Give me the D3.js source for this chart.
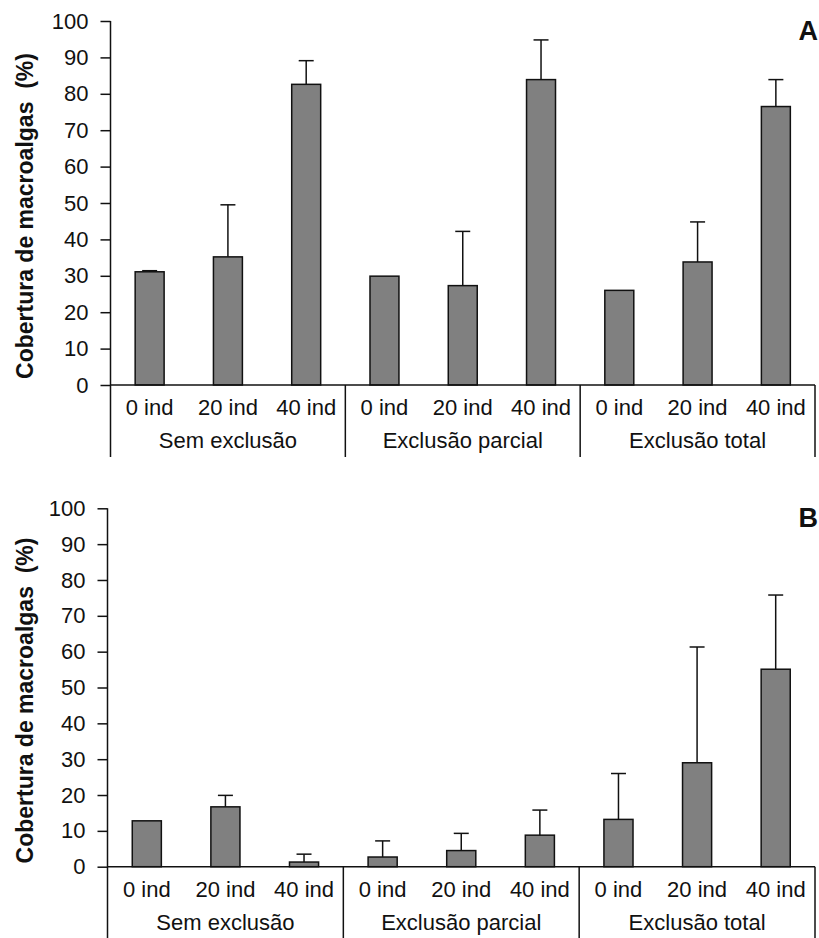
<!DOCTYPE html>
<html>
<head>
<meta charset="utf-8">
<script src="https://cdn.jsdelivr.net/npm/d3@7"></script>
<style>
	body { margin: 0; background: white; }
	text { font-family: "Liberation Sans", Arial, sans-serif; fill: #111; }
</style>
</head>
<body>
<svg id="chart" width="819" height="938"></svg>
<script>
// categories and groups (shared by both panels)
var categories = ["0 ind", "20 ind", "40 ind", "0 ind", "20 ind", "40 ind", "0 ind", "20 ind", "40 ind"];
var groups = ["Sem exclusão", "Exclusão parcial", "Exclusão total"];
var yTicks = [0, 10, 20, 30, 40, 50, 60, 70, 80, 90, 100];

// panel A
var valuesA = [31.1, 35.2, 82.6, 29.9, 27.3, 83.9, 26.0, 33.8, 76.5];
var errorsA = [0.3, 14.3, 6.5, 0, 14.9, 10.9, 0, 11.0, 7.4];

// panel B
var valuesB = [12.8, 16.7, 1.3, 2.7, 4.5, 8.8, 13.2, 29.0, 55.1];
var errorsB = [0, 3.2, 2.2, 4.5, 4.8, 7.0, 12.8, 32.3, 20.7];

var svg = d3.select("#chart");

/**
 * drawPanel()
 * @description draws one bar chart panel with its two-level category axis
 */
function drawPanel(values, errors, letter, left, right, top, bottom) {
	var g = svg.append("g");

	var x = d3.scaleBand()
		.domain(d3.range(categories.length))
		.range([left, right])
		.paddingInner(0.63)
		.paddingOuter(0.315);

	var xg = d3.scaleBand()
		.domain(groups)
		.range([left, right]);

	var y = d3.scaleLinear()
		.domain([0, 100])
		.range([bottom, top]);

	// y axis
	var yAxis = d3.axisLeft(y)
		.tickValues(yTicks)
		.tickSize(10)
		.tickSizeOuter(0)
		.tickPadding(12);

	var ya = g.append("g")
		.attr("transform", "translate(" + left + ",0)")
		.call(yAxis);
	ya.select(".domain").remove();
	ya.selectAll(".tick line").attr("stroke", "#111").attr("stroke-width", 1.5);
	ya.selectAll(".tick text")
		.style("font-size", "22px")
		.style("font-family", "'Liberation Sans', Arial, sans-serif")
		.attr("fill", "#111");

	var lowY = y(0) + 72;

	// y axis line, extended down through the label rows
	g.append("line")
		.attr("x1", left).attr("x2", left)
		.attr("y1", y(100)).attr("y2", lowY)
		.attr("stroke", "#111").attr("stroke-width", 1.5);

	// bars
	g.selectAll(".bar")
		.data(values)
		.enter().append("rect")
		.attr("class", "bar")
		.attr("x", function(d, i) { return x(i); })
		.attr("width", x.bandwidth())
		.attr("y", function(d) { return y(d); })
		.attr("height", function(d) { return y(0) - y(d); })
		.attr("fill", "#808080")
		.attr("stroke", "#111")
		.attr("stroke-width", 1.5);

	// error bars (upper only)
	var capHalf = 7.5;
	var eb = g.selectAll(".err")
		.data(values.map(function(v, i) { return { v: v, e: errors[i], i: i }; })
			.filter(function(d) { return d.e > 0; }))
		.enter().append("g")
		.attr("class", "err");

	eb.append("line")
		.attr("x1", function(d) { return x(d.i) + x.bandwidth() / 2; })
		.attr("x2", function(d) { return x(d.i) + x.bandwidth() / 2; })
		.attr("y1", function(d) { return y(d.v); })
		.attr("y2", function(d) { return y(d.v + d.e); })
		.attr("stroke", "#111").attr("stroke-width", 1.5);

	eb.append("line")
		.attr("x1", function(d) { return x(d.i) + x.bandwidth() / 2 - capHalf; })
		.attr("x2", function(d) { return x(d.i) + x.bandwidth() / 2 + capHalf; })
		.attr("y1", function(d) { return y(d.v + d.e); })
		.attr("y2", function(d) { return y(d.v + d.e); })
		.attr("stroke", "#111").attr("stroke-width", 1.5);

	// x axis line
	g.append("line")
		.attr("x1", left).attr("x2", right)
		.attr("y1", y(0)).attr("y2", y(0))
		.attr("stroke", "#111").attr("stroke-width", 1.5);

	// group separators
	g.selectAll(".sep")
		.data(groups)
		.enter().append("line")
		.attr("class", "sep")
		.attr("x1", function(d) { return xg(d) + xg.bandwidth(); })
		.attr("x2", function(d) { return xg(d) + xg.bandwidth(); })
		.attr("y1", y(0)).attr("y2", lowY)
		.attr("stroke", "#111").attr("stroke-width", 1.5);

	// category labels
	g.selectAll(".cat")
		.data(categories)
		.enter().append("text")
		.attr("class", "cat")
		.attr("x", function(d, i) { return x(i) + x.bandwidth() / 2; })
		.attr("y", y(0) + 30)
		.attr("text-anchor", "middle")
		.style("font-size", "22px")
		.text(function(d) { return d; });

	// group labels
	g.selectAll(".grp")
		.data(groups)
		.enter().append("text")
		.attr("class", "grp")
		.attr("x", function(d) { return xg(d) + xg.bandwidth() / 2; })
		.attr("y", y(0) + 63)
		.attr("text-anchor", "middle")
		.style("font-size", "22px")
		.text(function(d) { return d; });

	// y axis title
	var cy = (y(0) + y(100)) / 2 + 13;
	g.append("text")
		.attr("transform", "translate(33," + cy + ") rotate(-90)")
		.attr("text-anchor", "middle")
		.style("font-size", "23px")
		.style("font-weight", "bold")
		.style("white-space", "pre")
		.text("Cobertura de macroalgas  (%)");

	// panel letter
	g.append("text")
		.attr("x", 818)
		.attr("y", y(100) + 19)
		.attr("text-anchor", "end")
		.style("font-size", "27px")
		.style("font-weight", "bold")
		.text(letter);
}

drawPanel(valuesA, errorsA, "A", 110.5, 815, 21, 385);
drawPanel(valuesB, errorsB, "B", 107.5, 815, 508.3, 866.7);
</script>
</body>
</html>
